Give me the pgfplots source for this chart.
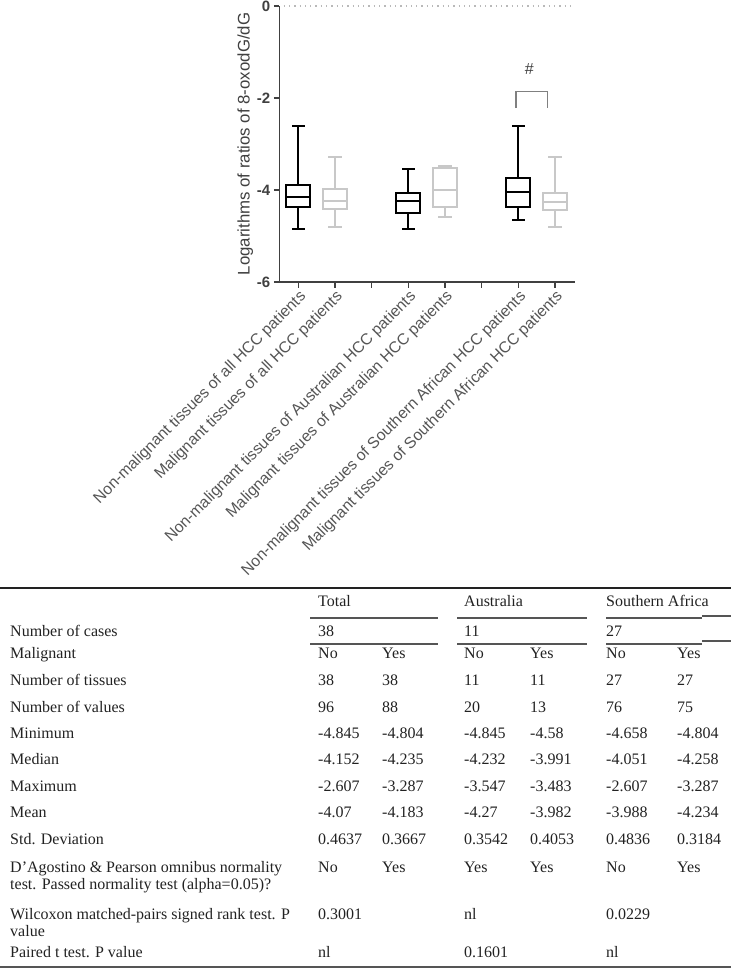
\documentclass[border=0pt]{standalone}
\usepackage{pgfplots}
\pgfplotsset{compat=1.18}
\usepackage{fontspec}
\setmainfont{Liberation Sans}
\newfontfamily\tabfont{Liberation Serif}
\definecolor{txt}{HTML}{404040}
\definecolor{xtxt}{HTML}{555555}
\definecolor{lgray}{HTML}{C8C8C8}
\definecolor{tabtxt}{HTML}{222222}
\definecolor{rule}{HTML}{555555}
\newcommand{\cell}[3]{\node[anchor=base west, inner sep=0pt, font=\tabfont\fontsize{16bp}{18bp}\selectfont, text=tabtxt] at (#1bp,-#2bp) {#3};}
\begin{document}
\begin{tikzpicture}
\begin{axis}[
  scale only axis,
  width=295.7bp, height=276bp,
  at={(279.3bp,-282bp)}, anchor=south west,
  xmin=0.482, xmax=8.545,
  ymin=-6, ymax=0,
  clip=false,
  unbounded coords=jump,
  axis x line*=bottom, axis y line*=left,
  axis line style={line width=1.3bp, color=txt},
  xtick={1,2,3,4,5,6,7,8},
  xticklabels={Non-malignant tissues of all HCC patients, Malignant tissues of all HCC patients, , Non-malignant tissues of Australian HCC patients, Malignant tissues of Australian HCC patients, , Non-malignant tissues of Southern African HCC patients, Malignant tissues of Southern African HCC patients},
  ytick={-6,-4,-2,0},
  yticklabels={-6,-4,-2,0},
  tick align=outside,
  major tick length=5.5bp,
  tick style={line width=1.3bp, color=txt},
  xticklabel style={rotate=45, anchor=north east, font=\fontsize{15.8bp}{16bp}\selectfont, text=xtxt, inner sep=1bp},
  yticklabel style={font=\fontsize{15bp}{16bp}\selectfont\bfseries, text=txt},
  ylabel={Logarithms of ratios of 8-oxodG/dG},
  ylabel style={at={(axis description cs:-0.115,0.5)}, anchor=center, font=\fontsize{16.8bp}{17bp}\selectfont, text=txt},
  every axis plot/.append style={line width=2bp, line cap=rect, line join=miter},
]
\addplot[lgray!80!gray, line width=1.3bp, line cap=butt, dash pattern=on 1.3bp off 4bp] coordinates {(0.6,0) (8.545,0)};
% box 1: non-malignant, all
\addplot[black] coordinates {(0.67,-4.37) (1.33,-4.37) (1.33,-3.89) (0.67,-3.89) (0.67,-4.37) (1,nan) (0.67,-4.152) (1.33,-4.152) (1,nan) (1,-3.89) (1,-2.607) (1,nan) (0.845,-2.607) (1.155,-2.607) (1,nan) (1,-4.37) (1,-4.845) (1,nan) (0.845,-4.845) (1.155,-4.845)};
% box 2: malignant, all
\addplot[lgray] coordinates {(1.67,-4.41) (2.33,-4.41) (2.33,-3.98) (1.67,-3.98) (1.67,-4.41) (2,nan) (1.67,-4.235) (2.33,-4.235) (2,nan) (2,-3.98) (2,-3.287) (2,nan) (1.845,-3.287) (2.155,-3.287) (2,nan) (2,-4.41) (2,-4.804) (2,nan) (1.845,-4.804) (2.155,-4.804)};
% box 3: non-malignant, Australia
\addplot[black] coordinates {(3.67,-4.50) (4.33,-4.50) (4.33,-4.07) (3.67,-4.07) (3.67,-4.50) (4,nan) (3.67,-4.232) (4.33,-4.232) (4,nan) (4,-4.07) (4,-3.547) (4,nan) (3.845,-3.547) (4.155,-3.547) (4,nan) (4,-4.50) (4,-4.845) (4,nan) (3.845,-4.845) (4.155,-4.845)};
% box 4: malignant, Australia
\addplot[lgray] coordinates {(4.67,-4.37) (5.33,-4.37) (5.33,-3.52) (4.67,-3.52) (4.67,-4.37) (5,nan) (4.67,-3.991) (5.33,-3.991) (5,nan) (5,-3.52) (5,-3.483) (5,nan) (4.845,-3.483) (5.155,-3.483) (5,nan) (5,-4.37) (5,-4.58) (5,nan) (4.845,-4.58) (5.155,-4.58)};
% box 5: non-malignant, Southern Africa
\addplot[black] coordinates {(6.67,-4.37) (7.33,-4.37) (7.33,-3.73) (6.67,-3.73) (6.67,-4.37) (7,nan) (6.67,-4.051) (7.33,-4.051) (7,nan) (7,-3.73) (7,-2.607) (7,nan) (6.845,-2.607) (7.155,-2.607) (7,nan) (7,-4.37) (7,-4.658) (7,nan) (6.845,-4.658) (7.155,-4.658)};
% box 6: malignant, Southern Africa
\addplot[lgray] coordinates {(7.67,-4.43) (8.33,-4.43) (8.33,-4.06) (7.67,-4.06) (7.67,-4.43) (8,nan) (7.67,-4.258) (8.33,-4.258) (8,nan) (8,-4.06) (8,-3.287) (8,nan) (7.845,-3.287) (8.155,-3.287) (8,nan) (8,-4.43) (8,-4.804) (8,nan) (7.845,-4.804) (8.155,-4.804)};
% significance bracket
\addplot[gray, line width=1.5bp, line cap=butt] coordinates {(6.93,-2.22) (6.93,-1.86) (7.79,-1.86) (7.79,-2.22)};
\node[font=\fontsize{16bp}{16bp}\selectfont, text=txt] at (axis cs:7.3,-1.375) {\#};
\end{axis}
% table rules
\draw[line width=1.6bp, tabtxt] (0bp,-588bp) -- (731bp,-588bp);
\draw[line width=1.1bp, rule] (310bp,-618bp) -- (438bp,-618bp) (457bp,-618bp) -- (587bp,-618bp) (606bp,-618bp) -- (702bp,-618bp) (702bp,-616bp) -- (731bp,-616bp);
\draw[line width=1.1bp, rule] (310bp,-644bp) -- (438bp,-644bp) (457bp,-644bp) -- (587bp,-644bp) (606bp,-644bp) -- (702bp,-644bp) (702bp,-641bp) -- (731bp,-641bp);
\draw[line width=1.4bp, rule] (0bp,-967bp) -- (731bp,-967bp);
% header
\cell{318}{606.5}{Total}\cell{464}{606.5}{Australia}\cell{606}{606.5}{Southern Africa}
\cell{10}{636.5}{Number of cases}\cell{318}{636.5}{38}\cell{464}{636.5}{11}\cell{606}{636.5}{27}
\cell{10}{658.5}{Malignant}\cell{318}{658.5}{No}\cell{382}{658.5}{Yes}\cell{464}{658.5}{No}\cell{530}{658.5}{Yes}\cell{606}{658.5}{No}\cell{677}{658.5}{Yes}
\cell{10}{685.5}{Number of tissues}\cell{318}{685.5}{38}\cell{382}{685.5}{38}\cell{464}{685.5}{11}\cell{530}{685.5}{11}\cell{606}{685.5}{27}\cell{677}{685.5}{27}
\cell{10}{712.5}{Number of values}\cell{318}{712.5}{96}\cell{382}{712.5}{88}\cell{464}{712.5}{20}\cell{530}{712.5}{13}\cell{606}{712.5}{76}\cell{677}{712.5}{75}
\cell{10}{738.5}{Minimum}\cell{318}{738.5}{-4.845}\cell{382}{738.5}{-4.804}\cell{464}{738.5}{-4.845}\cell{530}{738.5}{-4.58}\cell{606}{738.5}{-4.658}\cell{677}{738.5}{-4.804}
\cell{10}{764.5}{Median}\cell{318}{764.5}{-4.152}\cell{382}{764.5}{-4.235}\cell{464}{764.5}{-4.232}\cell{530}{764.5}{-3.991}\cell{606}{764.5}{-4.051}\cell{677}{764.5}{-4.258}
\cell{10}{791.5}{Maximum}\cell{318}{791.5}{-2.607}\cell{382}{791.5}{-3.287}\cell{464}{791.5}{-3.547}\cell{530}{791.5}{-3.483}\cell{606}{791.5}{-2.607}\cell{677}{791.5}{-3.287}
\cell{10}{817.5}{Mean}\cell{318}{817.5}{-4.07}\cell{382}{817.5}{-4.183}\cell{464}{817.5}{-4.27}\cell{530}{817.5}{-3.982}\cell{606}{817.5}{-3.988}\cell{677}{817.5}{-4.234}
\cell{10}{844.5}{Std. Deviation}\cell{318}{844.5}{0.4637}\cell{382}{844.5}{0.3667}\cell{464}{844.5}{0.3542}\cell{530}{844.5}{0.4053}\cell{606}{844.5}{0.4836}\cell{677}{844.5}{0.3184}
\cell{10}{872.5}{D’Agostino \& Pearson omnibus normality}\cell{10}{889.5}{test. Passed normality test (alpha=0.05)?}
\cell{318}{872.5}{No}\cell{382}{872.5}{Yes}\cell{464}{872.5}{Yes}\cell{530}{872.5}{Yes}\cell{606}{872.5}{No}\cell{677}{872.5}{Yes}
\cell{10}{919.5}{Wilcoxon matched-pairs signed rank test. P}\cell{10}{936.5}{value}
\cell{318}{919.5}{0.3001}\cell{464}{919.5}{nl}\cell{606}{919.5}{0.0229}
\cell{10}{957.5}{Paired t test. P value}\cell{318}{957.5}{nl}\cell{464}{957.5}{0.1601}\cell{606}{957.5}{nl}
\pgfresetboundingbox
\path[use as bounding box] (0bp,0bp) rectangle (731bp,-978bp);
\end{tikzpicture}
\end{document}
